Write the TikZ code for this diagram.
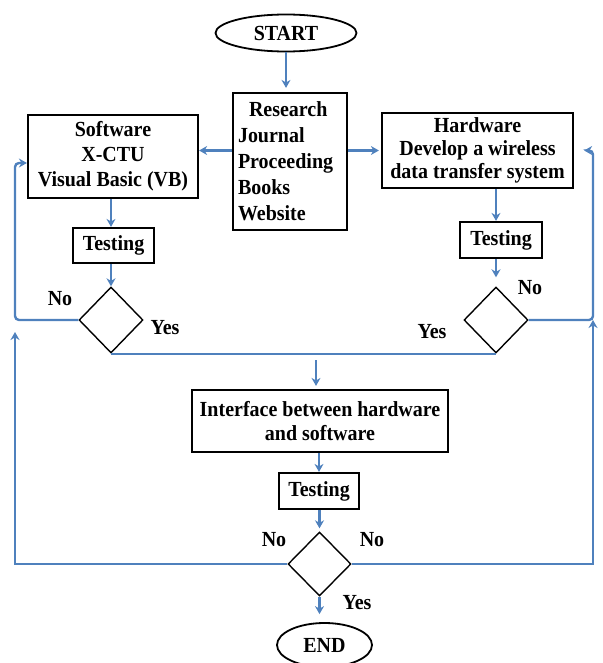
\documentclass[tikz,border=0pt]{standalone}
\usepackage{fontspec}
\setmainfont[FakeStretch=0.93]{Liberation Serif}
\usetikzlibrary{shapes.geometric,arrows.meta}
\definecolor{lineblue}{RGB}{79,129,189}
\tikzset{
  txt/.style={font=\bfseries\fontsize{21.5}{24}\selectfont},
  conn/.style={draw=lineblue, line width=2.4pt},
  arr/.style={conn, -{Stealth[length=8pt,width=9pt]}},
  box/.style={txt, draw=black, line width=2.2pt, inner xsep=2pt, inner ysep=2pt},
  dec/.style={diamond, draw=black, line width=1.4pt, inner sep=0pt, minimum width=64pt, minimum height=66pt},
  term/.style={txt, ellipse, draw=black, line width=1.8pt, inner sep=0pt},
  lab/.style={txt, inner sep=0pt}
}
\begin{document}
\begin{tikzpicture}[x=1pt,y=-1pt]
\useasboundingbox (0,0) rectangle (602,663);

% nodes
\node[term, minimum width=141pt, minimum height=37pt] (start) at (286,33) {START};
\node[box, text width=104pt, inner xsep=5pt, minimum height=137pt, align=left,
      font=\bfseries\fontsize{21.5}{26}\selectfont] (research) at (290,161.5)
  {\hspace*{11pt}Research\\Journal\\Proceeding\\Books\\Website};
\node[box, minimum width=170pt, minimum height=83pt, align=center,
      font=\bfseries\fontsize{21.5}{25}\selectfont] (software) at (113,156.5)
  {Software\\X-CTU\\Visual Basic (VB)};
\node[box, minimum width=191pt, minimum height=75pt, align=center,
      font=\bfseries\fontsize{21.5}{23}\selectfont] (hardware) at (477.5,150.5)
  {Hardware\\Develop a wireless\\data transfer system};
\node[box, minimum width=81pt, minimum height=35pt] (stest) at (113.5,245.5) {Testing};
\node[box, minimum width=82pt, minimum height=36pt] (htest) at (501,240) {Testing};
\node[dec] (sd) at (111,320) {};
\node[dec] (hd) at (496,320) {};
\node[box, minimum width=256pt, minimum height=62pt, align=center,
      font=\bfseries\fontsize{21.5}{24}\selectfont] (iface) at (320,421)
  {Interface between hardware\\and software};
\node[box, minimum width=80pt, minimum height=36pt] (ftest) at (319,491) {Testing};
\node[dec, minimum width=63pt, minimum height=64pt] (fd) at (319.5,564) {};
\node[term, minimum width=95pt, minimum height=44pt] (end) at (324.5,645) {END};

% labels
\node[lab] (no1) at (60,299) {No};
\node[lab] (yes1) at (165,328) {Yes};
\node[lab] (no2) at (530,288) {No};
\node[lab] (yes2) at (432,332) {Yes};
\node[lab] (no3) at (274,540) {No};
\node[lab] (no4) at (372,540) {No};
\node[lab] (yes3) at (357,603) {Yes};

% helper coordinates
\coordinate (L) at (15,0);
\coordinate (R) at (593,0);
\coordinate (Lb) at (15,332);
\coordinate (Rb) at (593,320);
\coordinate (mid) at (316,360);

% connectors
\draw[arr, shorten >=4pt] (start.south) -- (start.south |- research.north);
\draw[arr] (research.west |- hardware.west) -- (software.east |- hardware.west);
\draw[arr, shorten >=2pt] (research.east |- hardware.west) -- (hardware.west);
\draw[arr] (software.south -| sd.north) -- (stest.north -| sd.north);
\draw[arr] (stest.south -| sd.north) -- (sd.north);
\draw[arr] (hardware.south -| hd.north) -- (htest.north -| hd.north);
\draw[arr, shorten >=9pt] (htest.south -| hd.north) -- (hd.north);
\draw[conn] (sd.south) -- (hd.south);
\draw[arr, shorten >=3pt] (mid) -- (mid |- iface.north);
\draw[arr] (iface.south -| ftest.north) -- (ftest.north);
\draw[arr, shorten >=3pt] (ftest.south -| fd.north) -- (fd.north);
\draw[arr, shorten >=8pt] (fd.south) -- (fd.south |- end.north);

% loops
\draw[arr, rounded corners=4pt] (sd.west) -| ([yshift=-6.5pt]software.west -| L) -- ([yshift=-6.5pt]software.west);
\draw[arr] (fd.west) -| (Lb);
\draw[arr, rounded corners=4pt, shorten >=10pt] (hd.east) -| (hardware.east -| R) -- (hardware.east);
\draw[arr] (fd.east) -| (Rb);
\end{tikzpicture}
\end{document}
